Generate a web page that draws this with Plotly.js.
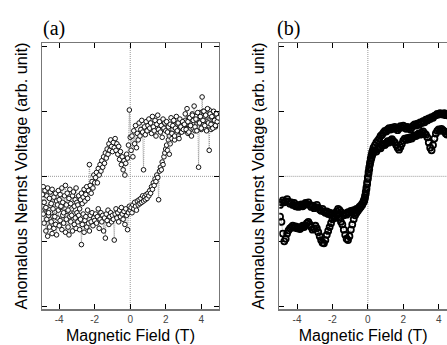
<!DOCTYPE html>
<html>
<head>
<meta charset="utf-8">
<script src="https://cdn.plot.ly/plotly-3.0.1.min.js"></script>
<style>html,body{margin:0;padding:0;background:#fff;}#chart{width:447px;height:345px;}</style>
</head>
<body>
<div id="chart"></div>
<script>
// ---------- data ----------
const tickVals = [-4, -2, 0, 2, 4];
const tickText = ['-4', '-2', '0', '2', '4'];
const yTickVals = [-2, -1, 0, 1, 2];
const xTitle = 'Magnetic Field (T)';
const yTitle = 'Anomalous Nernst Voltage (arb. unit)';
const panelLabels = ['(a)', '(b)'];

// Panel (a): field sweep points (T)
const aField = [
 -4.95,-4.90,-4.85,-4.80,-4.75,-4.70,-4.65,-4.60,-4.55,-4.50,-4.45,-4.40,-4.35,-4.30,-4.25,-4.20,-4.15,-4.10,-4.05,-4.00,
 -3.95,-3.90,-3.85,-3.80,-3.75,-3.70,-3.65,-3.60,-3.55,-3.50,-3.45,-3.40,-3.35,-3.30,-3.25,-3.20,-3.15,-3.10,-3.05,-3.00,
 -2.95,-2.90,-2.85,-2.80,-2.75,-2.70,-2.65,-2.60,-2.55,-2.50,-2.45,-2.40,-2.35,-2.30,-2.25,-2.20,-2.15,-2.10,-2.05,-2.00,
 -1.95,-1.90,-1.85,-1.80,-1.75,-1.70,-1.65,-1.60,-1.55,-1.50,-1.45,-1.40,-1.35,-1.30,-1.25,-1.20,-1.15,-1.10,-1.05,-1.00,
 -0.95,-0.90,-0.85,-0.80,-0.75,-0.70,-0.65,-0.60,-0.55,-0.50,-0.45,-0.40,-0.35,-0.30,-0.25,-0.20,-0.15,-0.10,-0.05,0.00,
 0.05,0.10,0.15,0.20,0.25,0.30,0.35,0.40,0.45,0.50,0.55,0.60,0.65,0.70,0.75,0.80,0.85,0.90,0.95,1.00,
 1.05,1.10,1.15,1.20,1.25,1.30,1.35,1.40,1.45,1.50,1.55,1.60,1.65,1.70,1.75,1.80,1.85,1.90,1.95,2.00,
 2.05,2.10,2.15,2.20,2.25,2.30,2.35,2.40,2.45,2.50,2.55,2.60,2.65,2.70,2.75,2.80,2.85,2.90,2.95,3.00,
 3.05,3.10,3.15,3.20,3.25,3.30,3.35,3.40,3.45,3.50,3.55,3.60,3.65,3.70,3.75,3.80,3.85,3.90,3.95,4.00,
 4.05,4.10,4.15,4.20,4.25,4.30,4.35,4.40,4.45,4.50,4.55,4.60,4.65,4.70,4.75,4.80,4.85,4.90,4.95];
// (a) sweep up (lower branch)
const aSweepUp = [
 -0.40,-0.58,-0.72,-0.50,-0.84,-0.66,-0.92,-0.60,-0.78,-0.45,-0.70,-0.88,-0.62,-0.80,-0.55,-0.74,-0.90,-0.64,-0.52,-0.76,
 -0.68,-0.48,-0.82,-0.60,-0.72,-0.42,-0.86,-0.66,-0.54,-0.78,-0.90,-0.62,-0.70,-0.50,-0.84,-0.58,-0.74,-0.64,-0.80,-0.56,
 -0.70,-0.60,-0.82,-0.66,-1.05,-0.74,-0.58,-0.86,-0.68,-0.62,-0.78,-0.52,-0.72,-0.84,-0.60,-0.70,-0.56,-0.76,-0.64,-0.68,
 -0.58,-0.72,-0.62,-0.50,-0.80,-0.66,-0.56,-0.70,-0.60,-0.84,-0.64,-0.95,-0.58,-0.68,-0.52,-0.74,-0.62,-0.56,-0.70,-0.60,
 -0.66,-0.98,-0.58,-0.50,-0.64,-0.56,-0.70,-0.52,-0.62,-0.48,-0.58,-0.66,-0.54,-0.74,-0.50,-0.60,-0.82,-0.56,-0.46,-0.52,
 -0.48,-0.56,-0.44,-0.50,-0.40,-0.46,-0.52,-0.38,-0.44,-0.36,-0.42,-0.34,-0.40,-0.30,-0.38,-0.32,-0.36,-0.28,-0.34,-0.26,
 -0.30,-0.22,-0.26,-0.16,-0.20,-0.10,-0.14,-0.04,-0.08,0.02,-0.02,-0.36,0.08,0.14,0.10,0.22,0.18,0.30,0.36,0.42,
 0.48,0.40,0.56,0.62,0.50,0.68,0.58,0.72,0.64,0.56,0.74,0.66,0.80,0.62,0.72,0.78,0.68,0.84,0.70,0.76,
 0.70,0.86,0.74,0.80,0.66,0.90,0.78,0.72,0.88,0.96,0.74,0.82,0.70,0.92,0.80,0.86,0.76,0.98,0.84,0.72,
 0.88,1.00,0.80,0.92,0.74,0.96,0.84,0.78,1.02,0.88,0.72,0.90,0.82,0.98,0.86,0.76,0.94,0.84,0.90];
// (a) sweep down (upper branch), listed at the same field points
const aSweepDown = [
 -0.28,-0.16,-0.40,-0.22,-0.48,-0.30,-0.18,-0.56,-0.34,-0.24,-0.42,-0.20,-0.50,-0.32,-0.62,-0.26,-0.38,-0.44,-0.22,-0.36,
 -0.28,-0.46,-0.18,-0.40,-0.56,-0.30,-0.14,-0.44,-0.26,-0.52,-0.34,-0.20,-0.42,-0.60,-0.30,-0.24,-0.46,-0.36,-0.18,-0.40,
 -0.44,-0.30,-0.50,-0.36,-0.26,-0.42,-0.32,-0.20,-0.38,-0.28,-0.16,-0.34,-0.22,0.18,-0.14,-0.26,-0.08,-0.18,0.02,-0.10,
 -0.02,0.06,-0.10,0.12,0.02,0.18,0.08,0.24,0.14,0.30,0.20,0.36,0.28,0.42,0.34,0.50,0.40,0.56,0.46,0.38,
 0.52,0.44,0.58,0.40,0.50,0.34,0.46,0.26,0.38,0.18,0.30,0.10,0.24,0.02,0.20,0.34,0.28,0.48,1.02,0.60,
 0.40,0.62,0.30,0.70,0.50,0.78,0.44,0.66,0.56,0.82,0.62,0.72,0.86,0.68,0.10,0.76,0.64,0.84,0.70,0.78,
 0.88,0.74,0.82,0.66,0.92,0.76,0.70,0.86,0.62,0.80,0.94,0.72,0.84,0.68,0.78,0.60,0.88,0.74,0.82,0.70,
 0.84,0.68,0.76,0.34,0.80,0.90,0.66,0.78,0.86,0.62,0.74,0.92,0.70,0.82,0.58,0.88,0.76,0.68,0.84,0.72,
 0.80,0.96,0.72,1.04,0.84,0.68,0.90,0.78,0.62,0.94,0.86,1.08,0.76,0.88,0.70,0.98,0.14,0.82,0.92,0.74,
 1.22,0.86,1.00,0.78,0.94,0.70,1.04,0.82,0.40,0.96,0.80,0.92,0.74,1.00,0.86,0.78,0.96,0.84,0.90];

// Panel (b): field points (finer near zero)
const bField = [-4.96,-4.88,-4.80,-4.72,-4.64,-4.56,-4.48,-4.40,-4.32,-4.24,-4.16,-4.08,-4.00,
 -3.92,-3.84,-3.76,-3.68,-3.60,-3.52,-3.44,-3.36,-3.28,-3.20,-3.12,-3.04,
 -2.96,-2.88,-2.80,-2.72,-2.64,-2.56,-2.48,-2.40,-2.32,-2.24,-2.16,-2.08,-2.00,
 -1.92,-1.84,-1.76,-1.68,-1.60,-1.52,-1.44,-1.36,-1.28,-1.20,-1.12,-1.04,
 -0.96,-0.88,-0.80,-0.72,-0.64,-0.56,-0.48,-0.40,-0.32,-0.24,
 -0.20,-0.16,-0.12,-0.08,-0.04,0.00,0.04,0.08,0.12,0.16,0.20,0.24,0.28,0.32,
 0.40,0.48,0.56,0.64,0.72,0.80,0.88,0.96,
 1.04,1.12,1.20,1.28,1.36,1.44,1.52,1.60,1.68,1.76,1.84,1.92,2.00,
 2.08,2.16,2.24,2.32,2.40,2.48,2.56,2.64,2.72,2.80,2.88,2.96,
 3.04,3.12,3.20,3.28,3.36,3.44,3.52,3.60,3.68,3.76,3.84,3.92,4.00,
 4.08,4.16,4.24,4.32,4.40,4.48,4.56,4.64,4.72,4.80,4.88,4.96];
const bUpper = [-0.44,-0.40,-0.37,-0.40,-0.38,-0.35,-0.39,-0.42,-0.40,-0.44,-0.41,-0.46,-0.44,
 -0.47,-0.45,-0.43,-0.46,-0.44,-0.41,-0.43,-0.40,-0.44,-0.47,-0.45,-0.49,
 -0.47,-0.44,-0.48,-0.51,-0.53,-0.50,-0.54,-0.56,-0.54,-0.58,-0.56,-0.59,-0.57,
 -0.60,-0.58,-0.54,-0.50,-0.52,-0.55,-0.58,-0.60,-0.57,-0.59,-0.55,-0.56,
 -0.53,-0.55,-0.52,-0.54,-0.50,-0.51,-0.47,-0.45,-0.42,-0.38,
 -0.35,-0.30,-0.24,-0.17,-0.09,-0.01,0.07,0.14,0.21,0.27,0.32,0.37,0.40,0.44,
 0.48,0.52,0.55,0.58,0.62,0.64,0.67,0.70,
 0.69,0.72,0.74,0.72,0.75,0.73,0.76,0.74,0.71,0.74,0.77,0.75,0.78,
 0.76,0.73,0.76,0.74,0.72,0.75,0.78,0.80,0.78,0.81,0.79,0.83,
 0.82,0.85,0.83,0.87,0.86,0.89,0.88,0.91,0.90,0.93,0.94,0.96,0.95,
 0.97,0.96,0.95,0.97,0.94,0.96,0.93,0.95,0.97,0.94,0.96,0.98];
const bLower = [-0.62,-0.70,-0.88,-1.00,-0.96,-0.88,-0.83,-0.80,-0.78,-0.76,-0.79,-0.77,-0.80,
 -0.78,-0.81,-0.79,-0.76,-0.78,-0.75,-0.72,-0.70,-0.74,-0.78,-0.82,-0.80,
 -0.76,-0.80,-0.86,-0.92,-0.98,-1.02,-1.03,-0.98,-0.90,-0.84,-0.78,-0.72,-0.66,
 -0.62,-0.64,-0.60,-0.58,-0.64,-0.70,-0.74,-0.82,-0.90,-0.96,-0.98,-0.92,
 -0.82,-0.74,-0.66,-0.60,-0.56,-0.53,-0.50,-0.47,-0.44,-0.40,
 -0.37,-0.33,-0.27,-0.20,-0.12,-0.04,0.04,0.11,0.18,0.24,0.28,0.32,0.35,0.37,
 0.40,0.38,0.42,0.45,0.43,0.47,0.50,0.48,
 0.51,0.54,0.52,0.55,0.57,0.54,0.52,0.48,0.44,0.41,0.45,0.50,0.55,
 0.58,0.56,0.59,0.57,0.60,0.58,0.61,0.63,0.62,0.64,0.66,0.64,
 0.67,0.69,0.66,0.64,0.60,0.52,0.44,0.40,0.48,0.58,0.66,0.70,0.72,
 0.70,0.73,0.71,0.69,0.66,0.64,0.67,0.70,0.68,0.71,0.69,0.72];

// ---------- styles ----------
const sans = 'Liberation Sans, Arial, Helvetica, sans-serif';
const serif = 'Liberation Serif, Times New Roman, serif';
const connLine = {color: '#888', width: 0.8, dash: '1px,1px'};
const markA = {symbol: 'circle', size: 4.6, color: '#fff', line: {color: '#111', width: 1}};
const markB = {symbol: 'circle-open', size: 6, color: '#000', line: {color: '#000', width: 1.8}};

const traces = [
  {x: aField, y: aSweepUp, xaxis: 'x', yaxis: 'y', mode: 'lines+markers', line: connLine, marker: markA},
  {x: aField, y: aSweepDown, xaxis: 'x', yaxis: 'y', mode: 'lines+markers', line: connLine, marker: markA},
  {x: bField, y: bUpper, xaxis: 'x2', yaxis: 'y2', mode: 'lines+markers', line: connLine, marker: markB},
  {x: bField, y: bLower, xaxis: 'x2', yaxis: 'y2', mode: 'lines+markers', line: connLine, marker: markB}
];

function xAx(domain, range, anchor) {
  return {domain: domain, range: range, anchor: anchor, tickmode: 'array', tickvals: tickVals, ticktext: tickText,
    ticks: 'inside', ticklen: 5, tickwidth: 1, tickcolor: '#000', showline: true, linecolor: '#777', linewidth: 1.5,
    mirror: 'ticks', showgrid: false, zeroline: false,
    tickfont: {family: sans, size: 10, color: '#444'},
    title: {text: xTitle, font: {family: sans, size: 16, color: '#000'}, standoff: 6}};
}
function yAx(anchor, mirror) {
  return {domain: [0, 1], range: [-2.04, 2.05], anchor: anchor, tickmode: 'array', tickvals: yTickVals,
    showticklabels: false, ticks: 'inside', ticklen: 5, tickwidth: 1, tickcolor: '#000', showline: true,
    linecolor: '#777', linewidth: 1.5, mirror: mirror, showgrid: false, zeroline: false,
    title: {text: yTitle, font: {family: sans, size: 16.3, color: '#000'}, standoff: 9}};
}
const dotLine = {color: '#999', width: 1, dash: '1px,1px'};
const layout = {
  width: 447, height: 345, margin: {l: 42, r: 0, t: 43, b: 36},
  paper_bgcolor: '#fff', plot_bgcolor: '#fff', showlegend: false,
  xaxis: xAx([0, 0.437], [-4.97, 5.0], 'y'),
  yaxis: yAx('x', 'ticks'),
  xaxis2: xAx([0.586, 1], [-5.0, 4.47], 'y2'),
  yaxis2: yAx('x2', false),
  shapes: [
    {type: 'line', layer: 'below', xref: 'x', yref: 'y domain', x0: 0, x1: 0, y0: 0, y1: 1, line: dotLine},
    {type: 'line', layer: 'below', xref: 'x domain', yref: 'y', x0: 0, x1: 1, y0: 0, y1: 0, line: dotLine},
    {type: 'line', layer: 'below', xref: 'x2', yref: 'y2 domain', x0: 0, x1: 0, y0: 0, y1: 1, line: dotLine},
    {type: 'line', layer: 'below', xref: 'x2 domain', yref: 'y2', x0: 0, x1: 1, y0: 0, y1: 0, line: dotLine}
  ],
  annotations: [
    {text: panelLabels[0], xref: 'paper', yref: 'paper', x: -0.003, y: 1.053, xanchor: 'left', yanchor: 'middle',
     showarrow: false, font: {family: serif, size: 20, color: '#000'}},
    {text: panelLabels[1], xref: 'paper', yref: 'paper', x: 0.575, y: 1.053, xanchor: 'left', yanchor: 'middle',
     showarrow: false, font: {family: serif, size: 20, color: '#000'}}
  ]
};
Plotly.newPlot('chart', traces, layout, {displayModeBar: false, staticPlot: true});
</script>
</body>
</html>
